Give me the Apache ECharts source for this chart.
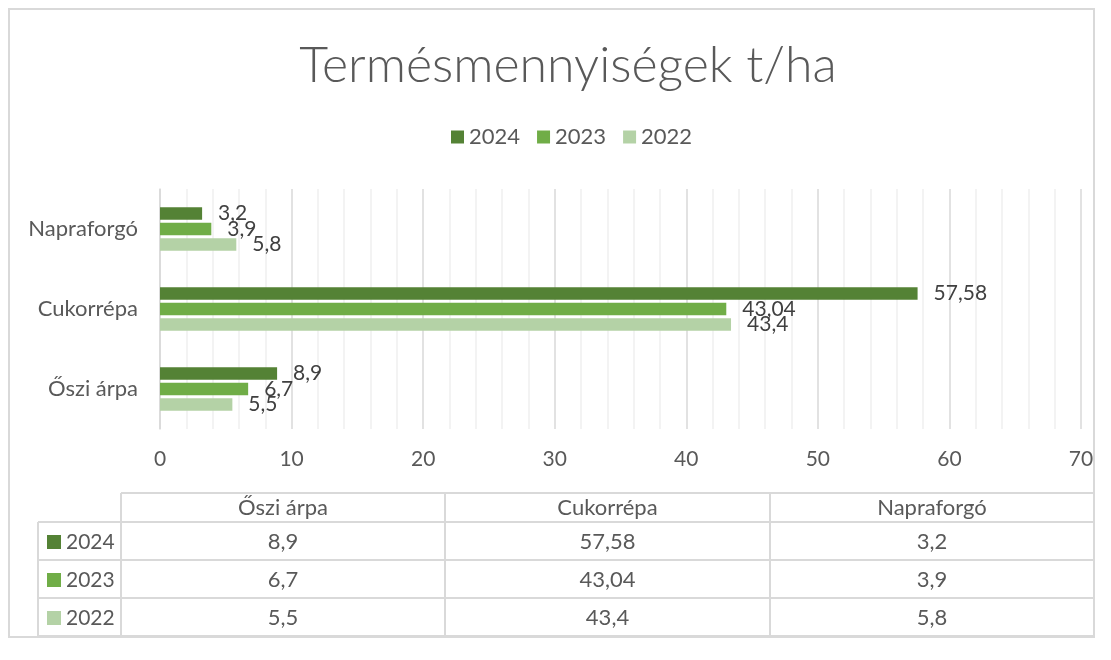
<!DOCTYPE html>
<html>
<head>
<meta charset="utf-8">
<script src="https://cdn.jsdelivr.net/npm/echarts@6/dist/echarts.min.js"></script>
<style>
  html, body { margin: 0; padding: 0; background: #fff; }
  #chart { width: 1111px; height: 660px; }
</style>
</head>
<body>
<div id="chart"></div>
<script>
// adatok
const categories = ['Őszi árpa', 'Cukorrépa', 'Napraforgó'];
const years = ['2024', '2023', '2022'];
const values2024 = [8.9, 57.58, 3.2];
const values2023 = [6.7, 43.04, 3.9];
const values2022 = [5.5, 43.4, 5.8];
const seriesValues = [values2024, values2023, values2022];
const colors = ['#548235', '#70ad47', '#b4d2a6'];

const FONT = 'Lato';
const fmt = v => String(v).replace('.', ',');

const chart = echarts.init(document.getElementById('chart'));

// táblázat a diagram alatt
function buildTable () {
  const top = 493, headH = 29, rowH = 38;
  const cols = [121, 445, 770, 1094];
  const left = 38;
  const bottom = top + headH + rowH * years.length;
  const line = { stroke: '#d9d9d9', lineWidth: 2 };
  const els = [];
  // vízszintes vonalak
  els.push({ type: 'line', shape: { x1: cols[0], y1: top, x2: cols[3], y2: top }, style: line });
  for (let i = 0; i <= years.length; i++) {
    const y = top + headH + rowH * i;
    els.push({ type: 'line', shape: { x1: left, y1: y, x2: cols[3], y2: y }, style: line });
  }
  // függőleges vonalak
  els.push({ type: 'line', shape: { x1: left, y1: top + headH, x2: left, y2: bottom }, style: line });
  cols.forEach(x => {
    els.push({ type: 'line', shape: { x1: x, y1: top, x2: x, y2: bottom }, style: line });
  });
  // fejléc
  categories.forEach((c, j) => {
    els.push({
      type: 'text',
      style: { x: (cols[j] + cols[j + 1]) / 2, y: top + headH / 2, text: c, align: 'center', verticalAlign: 'middle',
        fill: '#595959', font: '22px ' + FONT }
    });
  });
  // sorok
  years.forEach((yr, i) => {
    const cy = top + headH + rowH * i + rowH / 2 + 1;
    els.push({ type: 'rect', shape: { x: 47, y: cy - 7, width: 14, height: 14 }, style: { fill: colors[i] } });
    els.push({ type: 'text', style: { x: 66, y: cy, text: yr, verticalAlign: 'middle', fill: '#595959', font: '21px ' + FONT } });
    seriesValues[i].forEach((v, j) => {
      els.push({
        type: 'text',
        style: { x: (cols[j] + cols[j + 1]) / 2, y: cy, text: fmt(v), align: 'center', verticalAlign: 'middle',
          fill: '#595959', font: '22px ' + FONT }
      });
    });
  });
  // külső keret
  els.push({ type: 'rect', shape: { x: 9, y: 9, width: 1085, height: 628 }, style: { fill: 'none', stroke: '#d9d9d9', lineWidth: 2 } });
  return els;
}

const option = {
  backgroundColor: '#fff',
  textStyle: { fontFamily: FONT },
  title: {
    text: 'Termésmennyiségek t/ha',
    left: 563,
    textAlign: 'center',
    top: 36,
    textStyle: { fontFamily: FONT, fontSize: 50, fontWeight: 300, color: '#595959' }
  },
  legend: {
    data: years,
    left: 446,
    top: 121,
    itemWidth: 13,
    itemHeight: 13,
    itemGap: 17,
    icon: 'rect',
    textStyle: { fontSize: 22, color: '#595959', fontFamily: FONT }
  },
  grid: { left: 160, right: 30, top: 189, bottom: 231, containLabel: false },
  xAxis: {
    type: 'value',
    min: 0,
    max: 70,
    interval: 10,
    axisLine: { show: false },
    axisTick: { show: false },
    axisLabel: { fontSize: 21, color: '#595959', margin: 20, fontFamily: FONT },
    splitLine: { lineStyle: { color: '#d9d9d9', width: 1.5 } },
    minorTick: { show: false, splitNumber: 5 },
    minorSplitLine: { show: true, lineStyle: { color: '#efefef', width: 1.5 } }
  },
  yAxis: {
    type: 'category',
    data: categories,
    axisLine: { lineStyle: { color: '#d9d9d9', width: 1.5 } },
    axisTick: { length: 5, lineStyle: { color: '#d9d9d9', width: 1.5 } },
    axisLabel: { fontSize: 22, color: '#595959', margin: 22, fontFamily: FONT }
  },
  series: years.map((yr, i) => ({
    name: yr,
    type: 'bar',
    data: seriesValues[i],
    barWidth: 12.5,
    barGap: '24%',
    itemStyle: { color: colors[i] },
    label: {
      show: true,
      position: 'right',
      distance: 16,
      fontSize: 21,
      color: '#404040',
      fontFamily: FONT,
      formatter: p => fmt(p.value)
    }
  })),
  graphic: buildTable()
};

chart.setOption(option);
</script>
</body>
</html>
